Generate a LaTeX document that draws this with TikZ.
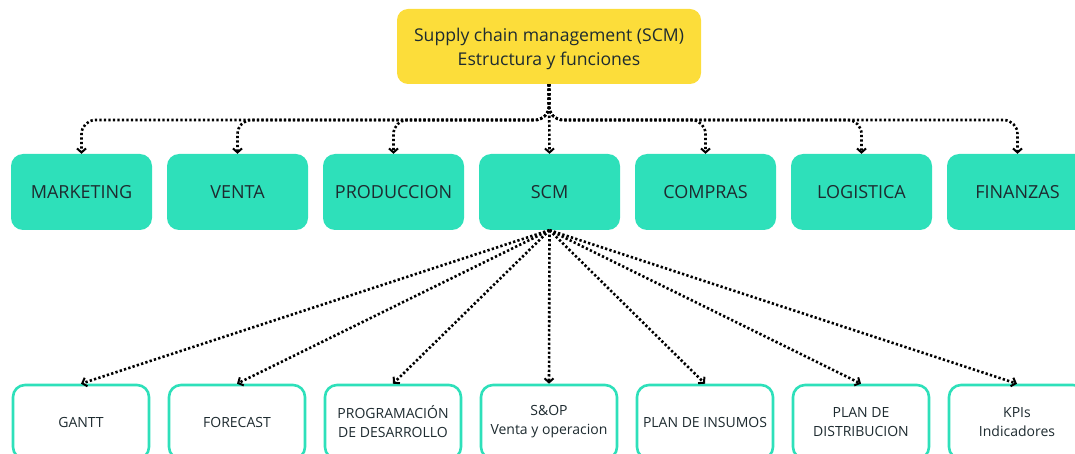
\documentclass[tikz,border=0pt]{standalone}
\usepackage{fontspec}
\setmainfont{Open Sans}
\usetikzlibrary{arrows.meta}
\definecolor{scmyellow}{HTML}{FCDD3A}
\definecolor{scmteal}{HTML}{2EE0BA}
\definecolor{scmtext}{HTML}{1E2B30}
\tikzset{
  titlebox/.style={fill=scmyellow, draw=none, rounded corners=11pt,
    minimum width=304pt, minimum height=75pt, align=center,
    font=\fontsize{17.6}{24}\selectfont, text=scmtext},
  areabox/.style={fill=scmteal, draw=none, rounded corners=12pt,
    minimum width=141pt, minimum height=76pt, align=center,
    font=\fontsize{18}{21}\selectfont, text=scmtext},
  taskbox/.style={fill=white, draw=scmteal, line width=2.6pt, rounded corners=12pt,
    minimum width=136pt, minimum height=74pt, align=center,
    font=\fontsize{14}{19}\selectfont, text=scmtext},
  conn/.style={line width=2.6pt, dash pattern=on 2.3pt off 2.2pt,
    -{Straight Barb[length=4pt,width=9pt,line width=2pt]}},
}
\begin{document}
\begin{tikzpicture}[x=1pt,y=-1pt]
\useasboundingbox (0,0) rectangle (1075,454);
\begin{scope}
\clip (0,0) rectangle (1075,454);
% title
\node[titlebox] (top) at (549,46.5) {};
\node[align=center, font=\fontsize{17.6}{24}\selectfont, text=scmtext] (toptext) at (549,49)
  {Supply chain management (SCM)\\Estructura y funciones};
% functional areas
\node[areabox] (mk) at (81.5,192) {MARKETING};
\node[areabox] (ve) at (237.5,192) {VENTA};
\node[areabox] (pr) at (393.5,192) {PRODUCCION};
\node[areabox] (scm) at (549.5,192) {SCM};
\node[areabox] (co) at (705.5,192) {COMPRAS};
\node[areabox] (lo) at (861.5,192) {LOGISTICA};
\node[areabox] (fi) at (1017.5,192) {FINANZAS};
% SCM tasks
\node[taskbox] (ga) at (81,422) {GANTT};
\node[taskbox] (fo) at (237,422) {FORECAST};
\node[taskbox] (pd) at (393,422) {PROGRAMACIÓN\\DE DESARROLLO};
\node[taskbox] (so) at (549,422) {S\&OP\\Venta y operacion};
\node[taskbox] (pi) at (705,422) {PLAN DE INSUMOS};
\node[taskbox] (di) at (861,422) {PLAN DE\\DISTRIBUCION};
\node[taskbox] (kp) at (1017,422) {KPIs\\Indicadores};
\end{scope}
% branches from the title
\coordinate (hub) at (549,120);
\foreach \n in {mk,ve,pr,co,lo,fi}{
  \draw[conn, rounded corners=14pt] (top.south) |- (hub -| \n.north) -- (\n.north);
}
\draw[conn] (top.south) -- (scm.north);
% fan from SCM
\foreach \n in {ga,fo,pd,so,pi,di,kp}{
  \draw[conn] (scm.south) -- (\n.north);
}
\end{tikzpicture}
\end{document}
